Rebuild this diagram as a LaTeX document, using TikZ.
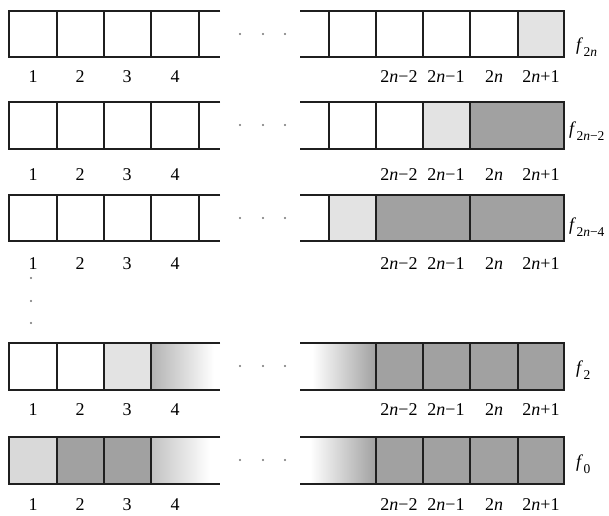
\documentclass[tikz,border=0pt]{standalone}
\usepackage{fontspec}
\setmainfont{Liberation Serif}
\definecolor{lightg}{gray}{0.89}
\definecolor{lightf}{gray}{0.85}
\definecolor{darkg}{gray}{0.63}
\definecolor{gradl}{gray}{0.70}
\definecolor{gradm}{gray}{0.76}
\definecolor{dotc}{gray}{0.45}
\newcommand\fl[1]{\textit{f}\kern0.3pt\raisebox{-0.35em}{\fontsize{13.5}{13.5}\selectfont #1}}
\newcommand\celllabels[2]{%
  \foreach \x/\t [count=\i] in {33/1,80/2,127/3,175/4,399/{2\textit{n}−2},446/{2\textit{n}−1},494/{2\textit{n}},541/{2\textit{n}+1}}
    \node[lbl] (#2-\i) at (\x,#1) {\t};}
\newcommand\rowframe[2]{%
  \draw[frame] (220,#1) -- (9,#1) -- (9,#2) -- (220,#2);
  \draw[frame] (300,#1) -- (564,#1) -- (564,#2) -- (300,#2);}
\newcommand\rowdots[1]{%
  \foreach \x in {240,263,285} \fill[dotc] (\x,#1) circle (1.2pt);}
\begin{document}
\begin{tikzpicture}[x=1pt,y=-1pt,
  frame/.style={line width=1.8pt, draw=black!88},
  lbl/.style={inner sep=0pt, font=\fontsize{18}{18}\selectfont},
  flbl/.style={inner sep=0pt, anchor=west, font=\fontsize{18}{18}\selectfont}]
\useasboundingbox (0,0) rectangle (609,515);
\fill[white] (0,0) rectangle (609,515);

% ---------- row 1 : f_{2n}
\fill[lightg] (518,11) rectangle (564,57);
\rowframe{11}{57}
\foreach \x in {57,104,151,199} \draw[frame] (\x,11) -- (\x,57);
\foreach \x in {329,376,423,470,518} \draw[frame] (\x,11) -- (\x,57);
\rowdots{34}
\celllabels{77}{a}
\node[flbl] (f1) at (576,47) {\fl{2\textit{n}}};

% ---------- row 2 : f_{2n-2}
\fill[lightg] (423,102) rectangle (470,149);
\fill[darkg] (470,102) rectangle (564,149);
\rowframe{102}{149}
\foreach \x in {57,104,151,199} \draw[frame] (\x,102) -- (\x,149);
\foreach \x in {329,376,423,470} \draw[frame] (\x,102) -- (\x,149);
\rowdots{125}
\celllabels{175}{b}
\node[flbl] (f2) at (569,131) {\fl{2\textit{n}−2}};

% ---------- row 3 : f_{2n-4}
\fill[lightg] (329,195) rectangle (376,241);
\fill[darkg] (376,195) rectangle (564,241);
\rowframe{195}{241}
\foreach \x in {57,104,151,199} \draw[frame] (\x,195) -- (\x,241);
\foreach \x in {329,376,470} \draw[frame] (\x,195) -- (\x,241);
\rowdots{218}
\celllabels{264}{c}
\node[flbl] (f3) at (569,227) {\fl{2\textit{n}−4}};

% vertical dots
\foreach \y in {278,301,323} \fill[dotc] (31,\y) circle (1.2pt);

% ---------- row 4 : f_2
\fill[lightg] (104,343) rectangle (151,390);
\shade[left color=gradl, right color=white] (151,343) rectangle (214,390);
\shade[left color=white, right color=darkg] (312,343) rectangle (376,390);
\fill[darkg] (376,343) rectangle (564,390);
\rowframe{343}{390}
\foreach \x in {57,104,151} \draw[frame] (\x,343) -- (\x,390);
\foreach \x in {376,423,470,518} \draw[frame] (\x,343) -- (\x,390);
\rowdots{366}
\celllabels{410}{d}
\node[flbl] (f4) at (576,370) {\fl{2}};

% ---------- row 5 : f_0
\fill[lightf] (9,437) rectangle (57,484);
\fill[darkg] (57,437) rectangle (151,484);
\shade[left color=gradm, right color=white] (151,437) rectangle (210,484);
\shade[left color=white, right color=darkg] (310,437) rectangle (376,484);
\fill[darkg] (376,437) rectangle (564,484);
\rowframe{437}{484}
\foreach \x in {57,104,151} \draw[frame] (\x,437) -- (\x,484);
\foreach \x in {376,423,470,518} \draw[frame] (\x,437) -- (\x,484);
\rowdots{460}
\celllabels{505}{e}
\node[flbl] (f5) at (576,464) {\fl{0}};
\end{tikzpicture}
\end{document}
